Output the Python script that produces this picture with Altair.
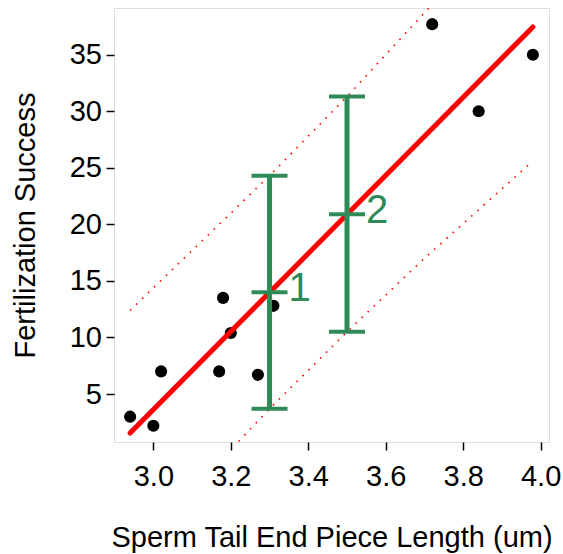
import altair as alt
import pandas as pd

# Observed data
tail_length = [2.94, 3.00, 3.02, 3.17, 3.18, 3.20, 3.27, 3.31, 3.72, 3.84, 3.98]
fert_success = [3.0, 2.2, 7.0, 7.0, 13.5, 10.4, 6.7, 12.8, 37.7, 30.0, 35.0]

# Fitted regression line (end points)
fit_x = [2.94, 3.98]
fit_y = [1.55, 37.45]

# Prediction band (dotted)
band_x = [2.94, 3.30, 3.50, 3.70, 3.98]
band_upper = [12.4, 24.3, 31.3, 38.7, 49.3]
band_lower = [-9.3, 3.7, 10.5, 17.0, 25.6]

# Prediction intervals at two new x values
pi_x = [3.3, 3.5]
pi_lo = [3.7, 10.5]
pi_mid = [14.0, 20.9]
pi_hi = [24.3, 31.3]
pi_label = ["1", "2"]

x_ticks = [3.0, 3.2, 3.4, 3.6, 3.8, 4.0]
y_ticks = [5, 10, 15, 20, 25, 30, 35]

GREEN = "#2E8B57"
FONT = "Liberation Sans"

pts = pd.DataFrame({"x": tail_length, "y": fert_success})
fit = pd.DataFrame({"x": fit_x, "y": fit_y})
band = pd.DataFrame({
    "x": band_x * 2,
    "y": band_upper + band_lower,
    "side": ["upper"] * len(band_x) + ["lower"] * len(band_x),
})
pis = pd.DataFrame({"x": pi_x, "lo": pi_lo, "mid": pi_mid, "hi": pi_hi, "label": pi_label})

xscale = alt.Scale(domain=[2.8984, 4.0216], nice=False, zero=False)
yscale = alt.Scale(domain=[0.76, 39.13], nice=False, zero=False)

xaxis = alt.Axis(
    values=x_ticks, format=".1f", title="Sperm Tail End Piece Length (um)",
    grid=False, domain=False, tickColor="black", tickSize=8, tickWidth=1.5,
    labelFontSize=29, labelColor="black", labelPadding=35, labelBaseline="alphabetic",
    labelFont=FONT, titleFont=FONT, titleFontSize=29, titleFontWeight="normal",
    titleColor="black", titleX=217.5, titleY=104.7, titleBaseline="alphabetic",
    titleAlign="center", labelFlush=False, labelOverlap=False,
)
yaxis = alt.Axis(
    values=y_ticks, title="Fertilization Success",
    grid=False, domain=False, tickColor="black", tickSize=8, tickWidth=1.5,
    labelFontSize=29, labelColor="black", labelPadding=4.5, labelBaseline="middle",
    labelFont=FONT, titleFont=FONT, titleFontSize=29, titleFontWeight="normal",
    titleColor="black", titleX=-80, titleY=217, titleAngle=270,
    titleBaseline="alphabetic", titleAlign="center", labelFlush=False, labelOverlap=False,
)

points = alt.Chart(pts).mark_circle(size=147, color="black", opacity=1).encode(
    x=alt.X("x:Q", scale=xscale, axis=xaxis),
    y=alt.Y("y:Q", scale=yscale, axis=yaxis),
)

fit_line = alt.Chart(fit).mark_line(color="#FF0000", strokeWidth=5, strokeCap="round", clip=True).encode(
    x=alt.X("x:Q", scale=xscale),
    y=alt.Y("y:Q", scale=yscale),
)

band_lines = alt.Chart(band).mark_line(
    color="#FF0000", strokeWidth=1.6, strokeDash=[1.6, 6.7], clip=True
).encode(
    x=alt.X("x:Q", scale=xscale),
    y=alt.Y("y:Q", scale=yscale),
    detail="side:N",
)

bars = alt.Chart(pis).mark_rule(color=GREEN, strokeWidth=5).encode(
    x=alt.X("x:Q", scale=xscale),
    y=alt.Y("lo:Q", scale=yscale),
    y2="hi:Q",
)

caps = alt.Chart(pis).transform_fold(["lo", "mid", "hi"], as_=["k", "v"]).mark_tick(
    color=GREEN, orient="horizontal", size=36, thickness=4, opacity=1
).encode(
    x=alt.X("x:Q", scale=xscale),
    y=alt.Y("v:Q", scale=yscale),
)

labels = alt.Chart(pis).mark_text(
    color=GREEN, fontSize=40, font=FONT, align="left", baseline="middle", dx=19, dy=-3
).encode(
    x=alt.X("x:Q", scale=xscale),
    y=alt.Y("mid:Q", scale=yscale),
    text="label:N",
)

chart = alt.layer(points, fit_line, band_lines, bars, caps, labels).properties(
    width=435, height=434,
    autosize=alt.AutoSizeParams(type="none"),
    padding={"left": 114, "top": 8, "right": 14, "bottom": 112},
).configure_view(stroke="black", strokeWidth=2).configure(font=FONT, background="white")

chart.save("out.html", embed_options={"renderer": "svg", "actions": False})
